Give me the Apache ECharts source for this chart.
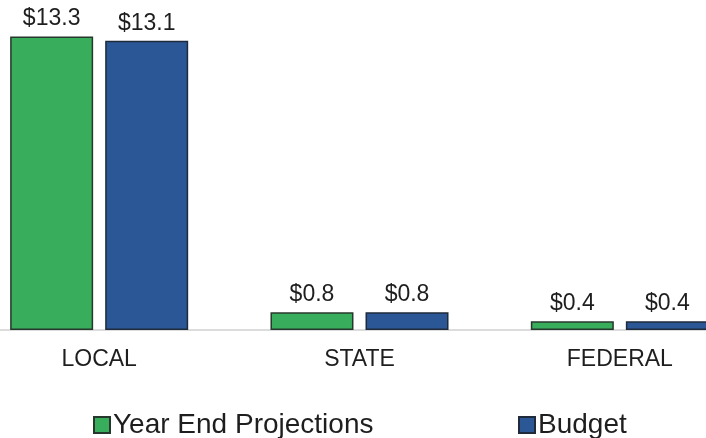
<!DOCTYPE html>
<html>
<head>
<meta charset="utf-8">
<script src="https://cdn.jsdelivr.net/npm/echarts@6/dist/echarts.min.js"></script>
<style>
html,body{margin:0;padding:0;background:#fff;}
#chart{width:706px;height:438px;}
</style>
</head>
<body>
<div id="chart"></div>
<script>
const categories = ['LOCAL', 'STATE', 'FEDERAL'];
const seriesNames = ['Year End Projections', 'Budget'];
const yearEndValues = [13.3, 0.8, 0.4];
const budgetValues = [13.1, 0.8, 0.4];

const chart = echarts.init(document.getElementById('chart'));
const font = '"Liberation Sans", Arial, sans-serif';
const labelCfg = {
  show: true,
  position: 'top',
  distance: 6,
  fontSize: 23,
  fontFamily: font,
  color: '#1e1e1e',
  formatter: p => '$' + p.value.toFixed(1)
};
chart.setOption({
  animation: false,
  backgroundColor: '#fff',
  grid: {
    left: -31, right: -44, top: 21, bottom: 108,
    outerBoundsMode: 'none',
    containLabel: false
  },
  xAxis: {
    type: 'category',
    data: categories,
    axisLine: { show: true, lineStyle: { color: '#d0d0d0', width: 1.5 } },
    axisTick: { show: false },
    axisLabel: { fontSize: 23, fontFamily: font, color: '#1e1e1e', margin: 18 }
  },
  yAxis: {
    type: 'value', min: 0, max: 14,
    show: false,
    splitLine: { show: false }
  },
  legend: [
    {
      data: [seriesNames[0]],
      left: 93, top: 411, padding: 0,
      icon: 'rect', itemWidth: 16, itemHeight: 16,
      textStyle: { fontSize: 28, fontFamily: font, color: '#1e1e1e', padding: [0, 0, 0, -2] }
    },
    {
      data: [seriesNames[1]],
      left: 518, top: 411, padding: 0,
      icon: 'rect', itemWidth: 16, itemHeight: 16,
      textStyle: { fontSize: 28, fontFamily: font, color: '#1e1e1e', padding: [0, 0, 0, -2] }
    }
  ],
  series: [
    {
      name: seriesNames[0],
      type: 'bar',
      data: yearEndValues,
      barWidth: 83,
      barGap: '14.5%',
      itemStyle: { color: '#38ad5b', borderColor: '#26382c', borderWidth: 1.5 },
      label: labelCfg
    },
    {
      name: seriesNames[1],
      type: 'bar',
      data: budgetValues,
      barWidth: 83,
      barGap: '14.5%',
      itemStyle: { color: '#2b5797', borderColor: '#1f2a3a', borderWidth: 1.5 },
      label: labelCfg
    }
  ]
});
</script>
</body>
</html>
